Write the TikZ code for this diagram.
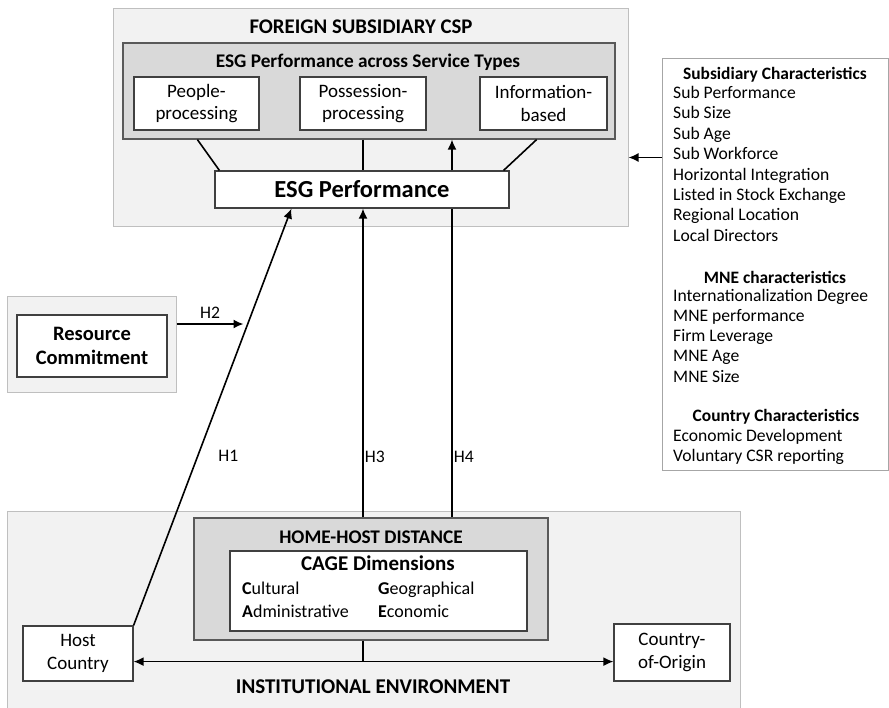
\documentclass[tikz,border=0pt]{standalone}
\usepackage{fontspec}
\setmainfont{Carlito}
\usetikzlibrary{arrows.meta,calc}

\tikzset{
  outerbox/.style={draw=black!25, fill=black!5, line width=1pt, inner sep=0pt},
  charbox/.style={draw=black!35, fill=white, line width=1pt, inner sep=0pt},
  innerbox/.style={draw=black!65, fill=black!15, line width=1.2pt, inner sep=0pt},
  whitebox/.style={draw=black!75, fill=white, line width=1.2pt, inner sep=0pt, align=center,
    font=\fontsize{19}{22.5}\selectfont},
  paneltitle/.style={inner sep=0pt, font=\bfseries\fontsize{20.8}{24}\selectfont},
  subtitle/.style={inner sep=0pt, font=\bfseries\fontsize{19.3}{22}\selectfont},
  listhead/.style={inner sep=0pt, font=\bfseries\fontsize{17.4}{20}\selectfont},
  listitem/.style={anchor=west, inner sep=0pt, text height=12pt, text depth=4pt,
    font=\fontsize{17.6}{20}\selectfont},
  cageitem/.style={anchor=west, inner sep=0pt, text height=12pt, text depth=4pt,
    font=\fontsize{18}{21}\selectfont},
  hlabel/.style={inner sep=0pt, font=\fontsize{17.6}{20}\selectfont},
  conn/.style={line width=1.6pt, draw=black},
  arr/.style={conn, -{Latex[length=10pt,width=9pt]}},
}

\begin{document}
\begin{tikzpicture}[x=1pt,y=-1pt]
\useasboundingbox (0,0) rectangle (889,707);
% Panels
\node[outerbox, minimum width=515pt, minimum height=218pt] (csp) at (370.5,117) {};
\node[outerbox, minimum width=733pt, minimum height=204pt] (inst) at (373.5,613) {};
\node[outerbox, minimum width=169pt, minimum height=96pt] (rcpanel) at (91.5,344) {};
\node[charbox, minimum width=226pt, minimum height=412pt] (chars) at (775,264) {};
% Foreign subsidiary CSP
\node[paneltitle] (csptitle) at (361,27) {FOREIGN SUBSIDIARY CSP};
\node[innerbox, minimum width=492pt, minimum height=96pt] (types) at (369,91) {};
\node[subtitle] (typestitle) at (368,62) {ESG Performance across Service Types};
\node[whitebox, minimum width=125pt, minimum height=53pt] (people) at (196.5,103.5) {People-\\processing};
\node[whitebox, minimum width=126pt, minimum height=53pt] (possession) at (363,103.5) {Possession-\\processing};
\node[whitebox, minimum width=127pt, minimum height=53pt] (info) at (543.5,103.5) {Information-\\based};
\node[whitebox, minimum width=294pt, minimum height=37pt,
  font=\bfseries\fontsize{24.5}{28}\selectfont] (esg) at (362,189.5) {ESG Performance};
% Resource commitment
\node[whitebox, minimum width=150pt, minimum height=62pt,
  font=\bfseries\fontsize{20.5}{24}\selectfont] (rc) at (92,346) {Resource\\Commitment};
% Institutional environment
\node[innerbox, minimum width=354pt, minimum height=122pt] (hh) at (371,579) {};
\node[subtitle] (hhtitle) at (371,537) {HOME-HOST DISTANCE};
\node[whitebox, minimum width=297pt, minimum height=80pt] (cage) at (378.5,591) {};
\node[inner sep=0pt, font=\bfseries\fontsize{21}{24}\selectfont] (cagetitle) at (378,563) {CAGE Dimensions};
\node[cageitem] (cultural) at (242,590) {\textbf{C}ultural};
\node[cageitem] (admin) at (242,613) {\textbf{A}dministrative};
\node[cageitem] (geo) at (378,590) {\textbf{G}eographical};
\node[cageitem] (econ) at (378,613) {\textbf{E}conomic};
\node[whitebox, minimum width=110pt, minimum height=55pt] (host) at (78,653.5) {Host\\Country};
\node[whitebox, minimum width=116pt, minimum height=57pt] (origin) at (672,652.5) {Country-\\of-Origin};
\node[paneltitle, font=\bfseries\fontsize{21}{24}\selectfont] (insttitle) at (373,687) {INSTITUTIONAL ENVIRONMENT};
% Control variables
\node[listhead] (subhead) at (775,75) {Subsidiary Characteristics};
\foreach \entry [count=\i] in {Sub Performance, Sub Size, Sub Age, Sub Workforce,
  Horizontal Integration, Listed in Stock Exchange, Regional Location, Local Directors}
  \node[listitem] (sub\i) at (673,74+20.4*\i) {\entry};
\node[listhead] (mnehead) at (775,277) {MNE characteristics};
\foreach \entry [count=\i] in {Internationalization Degree, MNE performance, Firm Leverage,
  MNE Age, MNE Size}
  \node[listitem] (mne\i) at (673,277+20.2*\i) {\entry};
\node[listhead] (ctryhead) at (776,417) {Country Characteristics};
\foreach \entry [count=\i] in {Economic Development, Voluntary CSR reporting}
  \node[listitem] (ctry\i) at (673,417+20.2*\i) {\entry};
% Helper points
\coordinate (h3foot) at ($(hh.north)+(-8,0)$);
\coordinate (h4foot) at ($(hh.north)+(81,0)$);
\coordinate (h1tip) at ($(esg.south west)+(77,0)$);
\coordinate (h2tail) at ($(rcpanel.east)+(0,-20)$);
\coordinate (h2tip) at ($(rcpanel.east)+(67,-20)$);
\coordinate (charsarr) at ($(chars.north west)+(0,100)$);
\coordinate (hub) at ($(hh.south)+(-8,21)$);
% Service types to ESG performance
\draw[conn] ($(types.south west)+(75,0)$) -- ($(esg.north west)+(5,0)$);
\draw[conn] (possession.south |- types.south) -- (possession.south |- esg.north);
\draw[conn] ($(types.south east)+(-79,0)$) -- ($(esg.north east)+(-6,0)$);
\draw[arr] (h4foot |- esg.north) -- (h4foot |- types.south);
% Hypotheses
\draw[arr] (host.north east) -- (h1tip) node[hlabel, pos=0.406, right=20pt] {H1};
\draw[arr] (h2tail) -- (h2tip) node[hlabel, midway, above=5pt] {H2};
\draw[arr] (h3foot) -- (h3foot |- esg.south) node[hlabel, pos=0.197, right=1pt] {H3};
\draw[conn] (h4foot) -- (h4foot |- esg.south) node[hlabel, pos=0.197, right=1pt] {H4};
% Controls and institutional links
\draw[arr] (charsarr) -- (charsarr -| csp.east);
\draw[conn] (h3foot |- hh.south) -- (hub);
\draw[arr] (hub) -- (hub -| host.east);
\draw[arr] (hub) -- (hub -| origin.west);
\end{tikzpicture}
\end{document}
